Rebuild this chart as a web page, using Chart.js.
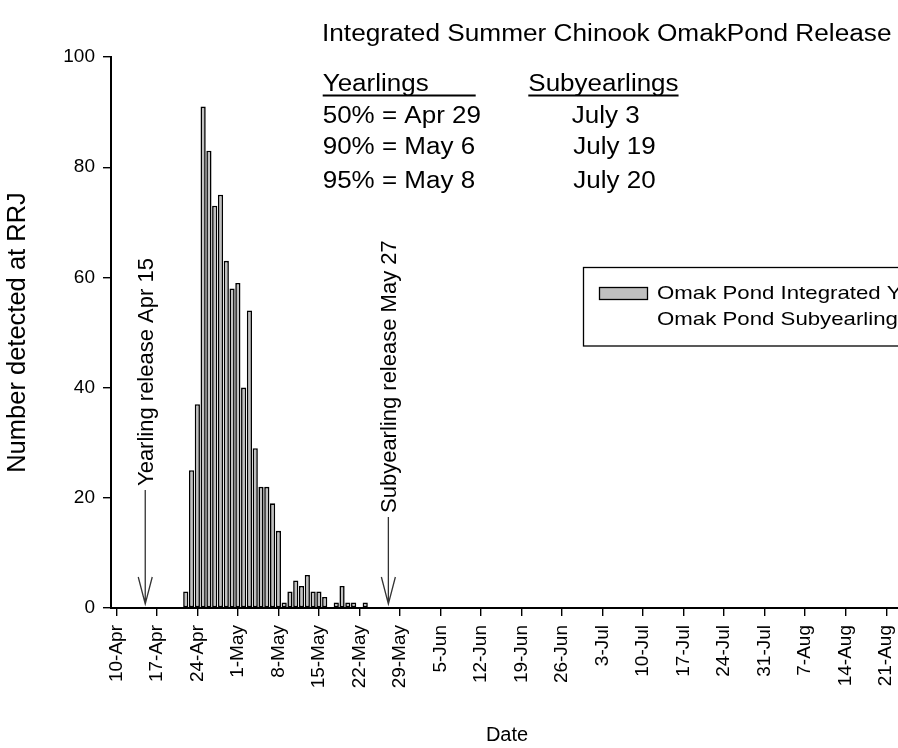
<!DOCTYPE html>
<html>
<head>
<meta charset="utf-8">
<script src="https://cdn.jsdelivr.net/npm/chart.js@4.4.1/dist/chart.umd.min.js"></script>
<style>
  html, body { margin: 0; padding: 0; background: #fff; overflow: hidden; }
  #wrap { width: 898px; height: 748px; overflow: hidden; position: relative; }
  canvas { display: block; }
</style>
</head>
<body>
<div id="wrap"><canvas id="c" width="960" height="748"></canvas></div>
<script>
// Weekly date ticks along the x axis
const weekLabels = ['10-Apr', '17-Apr', '24-Apr', '1-May', '8-May', '15-May', '22-May',
  '29-May', '5-Jun', '12-Jun', '19-Jun', '26-Jun', '3-Jul', '10-Jul', '17-Jul',
  '24-Jul', '31-Jul', '7-Aug', '14-Aug', '21-Aug'];

// Daily detections at RRJ, Omak Pond integrated yearlings
const detectionDates = ['22-Apr', '23-Apr', '24-Apr', '25-Apr', '26-Apr', '27-Apr', '28-Apr',
  '29-Apr', '30-Apr', '1-May', '2-May', '3-May', '4-May', '5-May', '6-May', '7-May', '8-May',
  '9-May', '10-May', '11-May', '12-May', '13-May', '14-May', '15-May', '16-May', '17-May',
  '18-May', '19-May', '20-May', '21-May', '22-May', '23-May'];
const yearlingCounts = [3, 25, 37, 91, 83, 73, 75, 63, 58, 59, 40, 54, 29, 22, 22, 19, 14,
  1, 3, 5, 4, 6, 3, 3, 2, 0, 1, 4, 1, 1, 0, 1];

// Omak Pond subyearlings (no detections in this window)
const subyearlingDates = [];
const subyearlingCounts = [];

const yTicks = [0, 20, 40, 60, 80, 100];

// Release events marked with arrows
const releaseLabels = ['Yearling release Apr 15', 'Subyearling release May 27'];
const releaseDates = ['15-Apr', '27-May'];

// Passage-date summary table
const summaryHeaders = ['Yearlings', 'Subyearlings'];
const yearlingPassage = ['50% = Apr 29', '90% = May 6', '95% = May 8'];
const subyearlingPassage = ['July 3', 'July 19', 'July 20'];
const chartTitle = 'Integrated Summer Chinook OmakPond Release';

const MONTHS = { Apr: 3, May: 4, Jun: 5, Jul: 6, Aug: 7 };
function dayIndex(s) {
  const [d, m] = s.split('-');
  return (Date.UTC(2001, MONTHS[m], +d) - Date.UTC(2001, 3, 10)) / 86400000;
}

const FONT = '"Liberation Sans", Arial, sans-serif';
Chart.defaults.font.family = FONT;
Chart.defaults.color = '#000';

// Horizontally widened text, as the plotting package renders it
function wideText(ctx, str, x, y, size, sx) {
  ctx.save();
  ctx.translate(x, y);
  ctx.scale(sx, 1);
  ctx.font = size + 'px ' + FONT;
  ctx.fillStyle = '#000';
  ctx.textBaseline = 'alphabetic';
  ctx.textAlign = 'left';
  ctx.fillText(str, 0, 0);
  const w = ctx.measureText(str).width * sx;
  ctx.restore();
  return w;
}

const overlay = {
  id: 'overlay',
  afterDraw(chart) {
    const ctx = chart.ctx;
    const xs = chart.scales.x, ys = chart.scales.y;

    // title
    wideText(ctx, chartTitle, 322, 41, 23.5, 1.115);

    // summary table
    const hx = [322.7, 528.3];
    summaryHeaders.forEach((h, i) => {
      const w = wideText(ctx, h, hx[i], 91, 23, 1.13);
      const uw = i === 0 ? 153 : w;
      ctx.save();
      ctx.strokeStyle = '#000';
      ctx.lineWidth = 1.8;
      ctx.beginPath();
      ctx.moveTo(hx[i], 95.5);
      ctx.lineTo(hx[i] + uw, 95.5);
      ctx.stroke();
      ctx.restore();
    });
    const rowY = [123.3, 154, 188];
    yearlingPassage.forEach((t, i) => wideText(ctx, t, 322.7, rowY[i], 23, 1.13));
    const subX = [571.7, 573.3, 573.3];
    subyearlingPassage.forEach((t, i) => wideText(ctx, t, subX[i], rowY[i], 23, 1.13));

    // release arrows with vertical labels
    const zeroY = ys.getPixelForValue(0);
    const lineTops = [490, 517];
    const textStarts = [486, 513];
    releaseDates.forEach((d, i) => {
      const x = xs.getPixelForValue(dayIndex(d));
      const tip = zeroY - 4;
      ctx.save();
      ctx.strokeStyle = '#333';
      ctx.lineWidth = 1.3;
      ctx.beginPath();
      ctx.moveTo(x, lineTops[i]);
      ctx.lineTo(x, tip);
      ctx.moveTo(x - 7, tip - 27);
      ctx.lineTo(x, tip);
      ctx.lineTo(x + 7, tip - 27);
      ctx.stroke();
      ctx.translate(x + 7.8, textStarts[i]);
      ctx.rotate(-Math.PI / 2);
      ctx.font = '22px ' + FONT;
      ctx.fillStyle = '#000';
      ctx.textAlign = 'left';
      ctx.textBaseline = 'alphabetic';
      ctx.fillText(releaseLabels[i], 0, 0);
      ctx.restore();
    });

    // legend box
    ctx.save();
    ctx.strokeStyle = '#000';
    ctx.lineWidth = 1.3;
    ctx.strokeRect(583.5, 267.5, 500, 78.5);
    const ds0 = chart.data.datasets[0];
    ctx.fillStyle = ds0.backgroundColor;
    ctx.fillRect(599.5, 287.5, 48, 12);
    ctx.strokeRect(599.5, 287.5, 48, 12);
    ctx.restore();
    wideText(ctx, chart.data.datasets[0].label, 657, 299, 19, 1.17);
    wideText(ctx, chart.data.datasets[1].label, 657, 325, 19, 1.17);
  }
};

new Chart(document.getElementById('c'), {
  type: 'bar',
  data: {
    datasets: [
      {
        label: 'Omak Pond Integrated Yearling',
        data: detectionDates.map((d, i) => ({ x: dayIndex(d), y: yearlingCounts[i] })),
        backgroundColor: '#c0c0c0',
        borderColor: '#000',
        borderWidth: 1.6,
        borderSkipped: false,
        categoryPercentage: 0.9,
        barPercentage: 1
      },
      {
        label: 'Omak Pond Subyearling',
        data: subyearlingDates.map((d, i) => ({ x: dayIndex(d), y: subyearlingCounts[i] })),
        backgroundColor: '#ffffff',
        borderColor: '#000',
        borderWidth: 1.6,
        categoryPercentage: 0.9,
        barPercentage: 1
      }
    ]
  },
  options: {
    responsive: false,
    animation: false,
    datasets: { bar: { grouped: false } },
    layout: { padding: { top: 57, right: 57, left: 0, bottom: 0 } },
    plugins: { legend: { display: false }, tooltip: { enabled: false } },
    scales: {
      x: {
        type: 'linear',
        min: -0.915,
        max: 135.9,
        offset: false,
        afterBuildTicks: s => { s.ticks = weekLabels.map((_, i) => ({ value: i * 7 })); },
        afterFit: s => { s.height = 140; s.paddingLeft = 0; s.paddingRight = 0; },
        ticks: {
          autoSkip: false,
          maxRotation: 90,
          minRotation: 90,
          padding: 9,
          color: '#000',
          font: { size: 19 },
          callback: (v, i) => weekLabels[i]
        },
        grid: { offset: false, drawOnChartArea: false, drawTicks: true, tickLength: 8, color: '#000', lineWidth: 1.4 },
        border: { display: true, color: '#000', width: 2 },
        title: { display: true, text: 'Date', color: '#000', font: { size: 20 }, padding: { top: 0, bottom: 1 } }
      },
      y: {
        min: 0,
        max: 100,
        afterBuildTicks: s => { s.ticks = yTicks.map(v => ({ value: v })); },
        afterFit: s => { s.width = 111; },
        ticks: { padding: 8, color: '#000', font: { size: 19 } },
        grid: { drawOnChartArea: false, drawTicks: true, tickLength: 8, color: '#000', lineWidth: 1.4 },
        border: { display: true, color: '#000', width: 2 },
        title: { display: true, text: 'Number detected at RRJ', color: '#000', font: { size: 25.5 }, padding: { top: 3, bottom: 0 } }
      }
    }
  },
  plugins: [overlay]
});
</script>
</body>
</html>
